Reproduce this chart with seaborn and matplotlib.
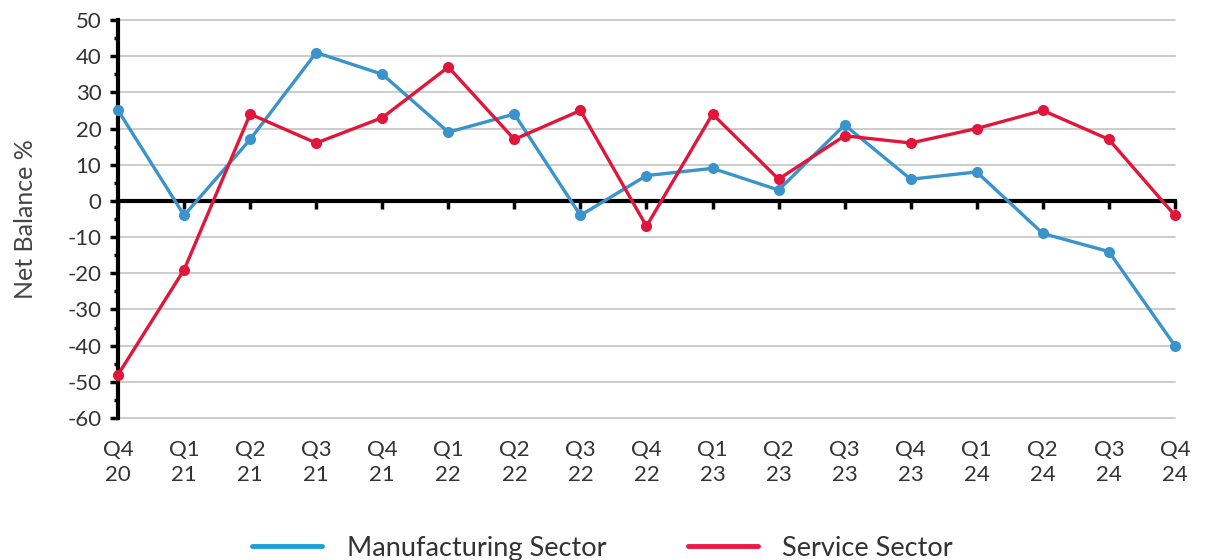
import pandas as pd
import matplotlib.pyplot as plt
import seaborn as sns
from matplotlib.lines import Line2D
from matplotlib.ticker import MultipleLocator

# quarter labels
quarters = ["Q4\n20", "Q1\n21", "Q2\n21", "Q3\n21", "Q4\n21", "Q1\n22", "Q2\n22",
            "Q3\n22", "Q4\n22", "Q1\n23", "Q2\n23", "Q3\n23", "Q4\n23", "Q1\n24",
            "Q2\n24", "Q3\n24", "Q4\n24"]

manufacturing = [25, -4, 17, 41, 35, 19, 24, -4, 7, 9, 3, 21, 6, 8, -9, -14, -40]
service = [-48, -19, 24, 16, 23, 37, 17, 25, -7, 24, 6, 18, 16, 20, 25, 17, -4]

series_names = ["Manufacturing Sector", "Service Sector"]
colors = {"Manufacturing Sector": "#3a94cb", "Service Sector": "#e0163b"}

sns.set_style("white")
plt.rcParams['font.family'] = ['Lato', 'DejaVu Sans']
plt.rcParams['axes.unicode_minus'] = False

# long-form table for seaborn
rows = []
for i, q in enumerate(quarters):
    rows.append({"x": i, "value": manufacturing[i], "Sector": series_names[0]})
    rows.append({"x": i, "value": service[i], "Sector": series_names[1]})
df = pd.DataFrame(rows)

fig = plt.figure(figsize=(12.05, 5.6), dpi=100)
ax = fig.add_axes([0.098, 0.2536, 0.877, 0.7107])

# grid lines first
for v in range(-60, 51, 10):
    if v != 0:
        ax.axhline(v, color="#c8c8c8", lw=1.3, zorder=0)

sns.lineplot(data=df, x="x", y="value", hue="Sector", palette=colors,
             marker="o", markersize=8, markeredgewidth=0, linewidth=2.4,
             ax=ax, legend=False, zorder=3)
for line in ax.lines:
    line.set_clip_on(False)

ax.set_xlim(0, len(quarters) - 1)
ax.set_ylim(-60, 50)
ax.yaxis.set_major_locator(MultipleLocator(10))
ax.yaxis.set_minor_locator(MultipleLocator(5))

# spines: left axis thick, bottom axis moved to zero
for s in ["top", "right"]:
    ax.spines[s].set_visible(False)
ax.spines["left"].set_linewidth(3)
ax.spines["left"].set_color("black")
ax.spines["bottom"].set_position(("data", 0))
ax.spines["bottom"].set_linewidth(3)
ax.spines["bottom"].set_color("black")
ax.spines["bottom"].set_zorder(2)

ax.set_xticks(range(len(quarters)))
ax.tick_params(axis="x", bottom=True, direction="out", length=6, width=2.5,
               color="black", labelbottom=False)
ax.tick_params(axis="y", which="both", left=True)
ax.tick_params(axis="y", which="major", direction="out", length=6, width=2.5,
               labelsize=16, colors="black", labelcolor="#333333", pad=6)
ax.tick_params(axis="y", which="minor", direction="out", length=3, width=2.5,
               colors="black")

ax.set_xlabel("")
ax.set_ylabel("Net Balance %", fontsize=18, color="#444444", labelpad=22)

# quarter labels at bottom of the plot
sec = ax.secondary_xaxis("bottom")
sec.set_xticks(range(len(quarters)))
sec.set_xticklabels(quarters, fontsize=16, color="#333333", linespacing=1.3)
sec.tick_params(length=0, pad=16)
sec.spines["bottom"].set_visible(False)

handles = [Line2D([], [], color="#1a9fd9", lw=3.5, solid_capstyle="round"),
           Line2D([], [], color="#ee1846", lw=3.5, solid_capstyle="round")]
fig.legend(handles, series_names, loc="lower center", ncol=2, frameon=False,
           fontsize=19.5, handlelength=2.6, handletextpad=0.9, columnspacing=3.0,
           bbox_to_anchor=(0.5, -0.045), labelcolor="#333333")

fig.savefig("out.png", dpi=100)
